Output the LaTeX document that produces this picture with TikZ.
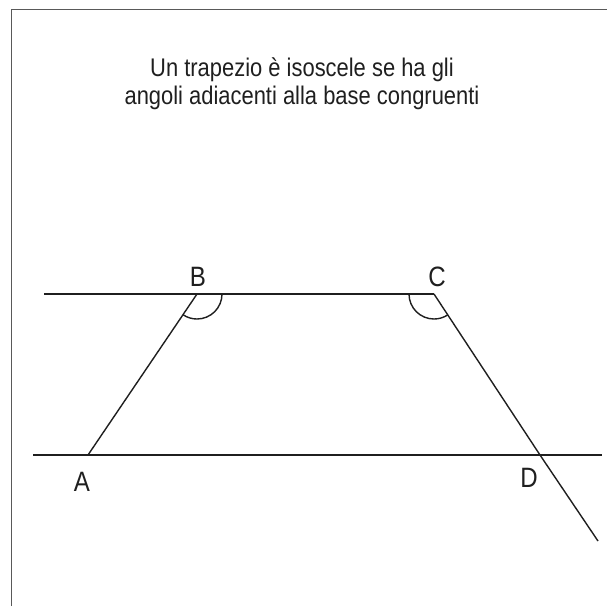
\documentclass[tikz,border=0pt]{standalone}
\usepackage{fontspec}
\setmainfont{Liberation Sans}[FakeStretch=0.86]
\begin{document}
\begin{tikzpicture}[x=1pt,y=-1pt,
  ln/.style={line width=1.4pt,draw=black!88},
  lbl/.style={font=\fontsize{28}{30}\selectfont,text=black!88,inner sep=0pt},
  ttl/.style={font=\fontsize{25.5}{28}\selectfont,text=black!88,align=center,inner sep=0pt}]
\useasboundingbox (0,0) rectangle (607,606);
\draw[line width=1pt,draw=black!65] (11,606) -- (11,9) -- (607,9);
\node[ttl] (title) at (302,84) {Un trapezio è isoscele se ha gli\\angoli adiacenti alla base congruenti};
\coordinate (A) at (88,455);
\coordinate (B) at (197,294);
\coordinate (C) at (434,294);
\coordinate (D) at (540,455);
\coordinate (L1) at (44,294);
\coordinate (L2) at (33,455);
\coordinate (R2) at (602,455);
\coordinate (E) at (598,541);
\draw[ln] (L1) -- (C);
\draw[ln] (L2) -- (R2);
\draw[ln] (A) -- (B);
\draw[ln] (C) -- (D) -- (E);
\draw[ln] (B) ++(25,0) arc[start angle=0,end angle=124,radius=25];
\draw[ln] (C) ++(-25,0) arc[start angle=180,end angle=56.6,radius=25];
\node[lbl] (lB) at (198,277) {B};
\node[lbl] (lC) at (437,277) {C};
\node[lbl] (lA) at (82,482) {A};
\node[lbl] (lD) at (529,478) {D};
\end{tikzpicture}
\end{document}
